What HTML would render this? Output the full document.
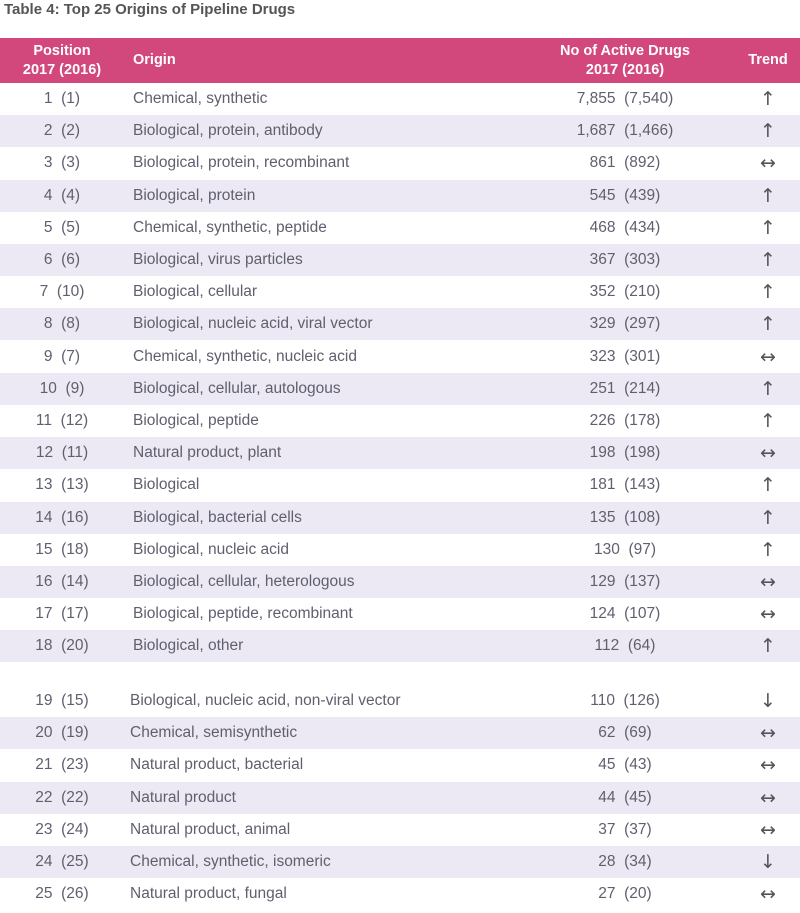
<!DOCTYPE html>
<html><head><meta charset="utf-8"><style>
body{margin:0;width:800px;height:913px;background:#fff;font-family:"Liberation Sans",sans-serif;color:#5f5f6e;position:relative;overflow:hidden}
.t{position:absolute;left:4px;top:1px;font-size:15px;font-weight:bold;color:#555}
.h{position:absolute;left:0;top:38px;width:800px;height:45px;background:#d2487c;color:#fff;font-weight:bold;font-size:14.5px}
.h div{position:absolute;text-align:center;line-height:19px}
.r{position:absolute;left:0;width:800px;height:32px;font-size:15.5px;line-height:32px}
.r.s{background:#ecE9f4}
.r span{position:absolute;top:0}
.p{left:0;width:124px;text-align:center}
.n{left:525px;width:200px;text-align:center}
.a{left:745px;width:46px;text-align:center;font-size:19px;font-family:"DejaVu Sans",sans-serif;color:#555}
</style></head><body>
<div class="t">Table 4: Top 25 Origins of Pipeline Drugs</div>
<div class="h">
<div style="left:0;width:124px;top:4px">Position<br>2017 (2016)</div>
<div style="left:133px;top:13px">Origin</div>
<div style="left:525px;width:200px;top:4px">No of Active Drugs<br>2017 (2016)</div>
<div style="left:740px;width:56px;top:13px">Trend</div>
</div>
<div id="rows"></div>
<script>
var d=[["1 (1)","Chemical, synthetic","7,855 (7,540)","↑"],["2 (2)","Biological, protein, antibody","1,687 (1,466)","↑"],["3 (3)","Biological, protein, recombinant","861 (892)","↔"],["4 (4)","Biological, protein","545 (439)","↑"],["5 (5)","Chemical, synthetic, peptide","468 (434)","↑"],["6 (6)","Biological, virus particles","367 (303)","↑"],["7 (10)","Biological, cellular","352 (210)","↑"],["8 (8)","Biological, nucleic acid, viral vector","329 (297)","↑"],["9 (7)","Chemical, synthetic, nucleic acid","323 (301)","↔"],["10 (9)","Biological, cellular, autologous","251 (214)","↑"],["11 (12)","Biological, peptide","226 (178)","↑"],["12 (11)","Natural product, plant","198 (198)","↔"],["13 (13)","Biological","181 (143)","↑"],["14 (16)","Biological, bacterial cells","135 (108)","↑"],["15 (18)","Biological, nucleic acid","130 (97)","↑"],["16 (14)","Biological, cellular, heterologous","129 (137)","↔"],["17 (17)","Biological, peptide, recombinant","124 (107)","↔"],["18 (20)","Biological, other","112 (64)","↑"],["19 (15)","Biological, nucleic acid, non-viral vector","110 (126)","↓"],["20 (19)","Chemical, semisynthetic","62 (69)","↔"],["21 (23)","Natural product, bacterial","45 (43)","↔"],["22 (22)","Natural product","44 (45)","↔"],["23 (24)","Natural product, animal","37 (37)","↔"],["24 (25)","Chemical, synthetic, isomeric","28 (34)","↓"],["25 (26)","Natural product, fungal","27 (20)","↔"]];
var h="";d.forEach(function(r,i){var top=i<18?83+i*32.2:685+(i-18)*32.2;var x=i<18?133:130;
h+='<div class="r'+(i%2?' s':'')+'" style="top:'+top+'px"><span class="p">'+r[0].replace(" ","&nbsp;&nbsp;")+'</span><span style="left:'+x+'px">'+r[1]+'</span><span class="n">'+r[2].replace(" ","&nbsp;&nbsp;")+'</span><span class="a">'+r[3]+'</span></div>';});
document.getElementById("rows").innerHTML=h;
</script>
</body></html>
